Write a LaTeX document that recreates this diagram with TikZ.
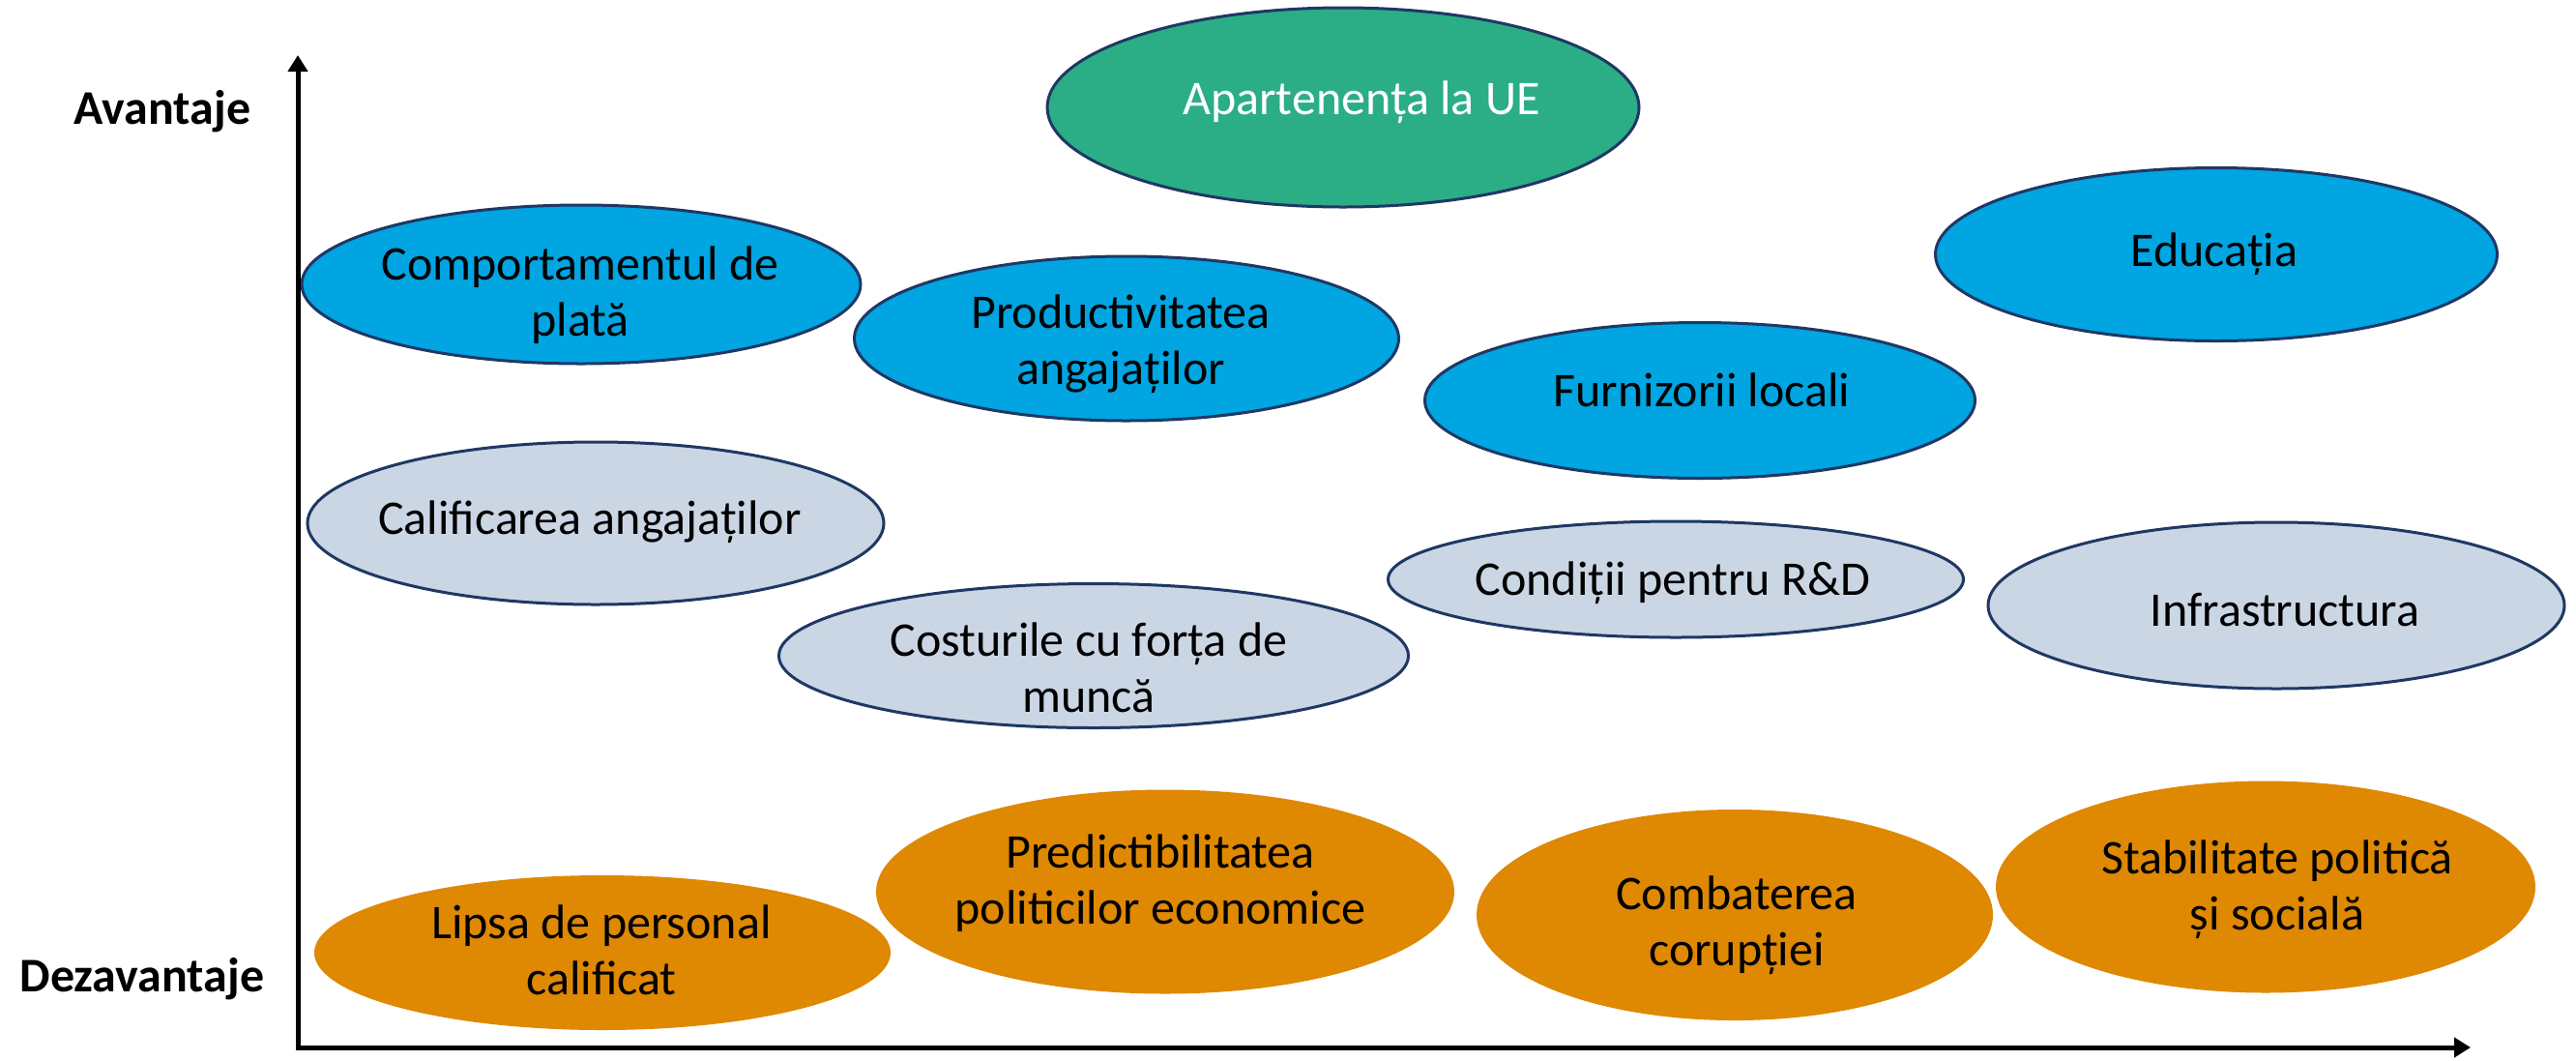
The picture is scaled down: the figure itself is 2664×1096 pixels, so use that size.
\documentclass[tikz,border=0pt]{standalone}
\usepackage{fontspec}
\setmainfont{Carlito}
\usetikzlibrary{shapes.geometric,arrows.meta}
\definecolor{ueGreen}{RGB}{43,174,134}
\definecolor{advBlue}{RGB}{0,165,225}
\definecolor{midGrey}{RGB}{203,214,228}
\definecolor{disOrange}{RGB}{223,136,2}
\definecolor{edgeNavy}{RGB}{31,56,100}
\newcommand{\twolines}[2]{\vtop{\baselineskip=58pt\lineskiplimit=-100pt\halign{\hfil##\hfil\cr#1\cr#2\cr}}}
\tikzset{
  oval/.style={ellipse, inner sep=0pt},
  greenoval/.style={oval, fill=ueGreen, draw=edgeNavy, line width=3pt},
  blueoval/.style={oval, fill=advBlue, draw=edgeNavy, line width=3pt},
  greyoval/.style={oval, fill=midGrey, draw=edgeNavy, line width=3pt},
  orangeoval/.style={oval, fill=disOrange},
  lbl/.style={anchor=base, inner sep=0pt, font=\fontsize{50}{58}\selectfont, text=black},
  axislbl/.style={anchor=base, inner sep=0pt, font=\fontsize{50}{60}\selectfont\bfseries, text=black},
  axisline/.style={line width=5pt, {Triangle[length=17pt,width=20pt]}-{Triangle[length=17pt,width=20pt]}}
}
\begin{document}
\begin{tikzpicture}[x=1pt,y=-1pt]
\useasboundingbox (0,0) rectangle (2664,1096);
\fill[white] (0,0) rectangle (2664,1096);

% ovals
\node[greenoval, minimum width=612pt, minimum height=206pt] (ue) at (1389,111) {};
\node[lbl, text=white] (tue) at (1408,118) {Apartenența la UE};

\node[blueoval, minimum width=578pt, minimum height=164pt] (plata) at (601,294) {};
\node[lbl] (tplata) at (600,289) {\twolines{Comportamentul de}{plată}};

\node[blueoval, minimum width=563pt, minimum height=170pt] (prod) at (1165,350) {};
\node[lbl] (tprod) at (1159,339) {\twolines{Productivitatea}{angajaților}};

\node[blueoval, minimum width=581pt, minimum height=179pt] (edu) at (2292,263) {};
\node[lbl] (tedu) at (2290,275) {Educația};

\node[blueoval, minimum width=569pt, minimum height=161pt] (furn) at (1758,414) {};
\node[lbl] (tfurn) at (1760,420) {Furnizorii locali};

\node[greyoval, minimum width=596pt, minimum height=168pt] (calif) at (616,541) {};
\node[lbl] (tcalif) at (610,552) {Calificarea angajaților};

\node[greyoval, minimum width=595pt, minimum height=120pt] (rd) at (1733,599) {};
\node[lbl] (trd) at (1730,615) {Condiții pentru R\&D};

\node[greyoval, minimum width=651pt, minimum height=149pt] (cost) at (1131,678) {};
\node[lbl] (tcost) at (1126,678) {\twolines{Costurile cu forța de}{muncă}};

\node[greyoval, minimum width=596pt, minimum height=172pt] (infra) at (2354,626) {};
\node[lbl] (tinfra) at (2363,647) {Infrastructura};

\node[orangeoval, minimum width=596pt, minimum height=160pt] (lipsa) at (623,985) {};
\node[lbl] (tlipsa) at (622,970) {\twolines{Lipsa de personal}{calificat}};

\node[orangeoval, minimum width=598pt, minimum height=211pt] (pred) at (1205,922) {};
\node[lbl] (tpred) at (1200,897) {\twolines{Predictibilitatea}{politicilor economice}};

\node[orangeoval, minimum width=534pt, minimum height=218pt] (cor) at (1794,946) {};
\node[lbl] (tcor) at (1796,940) {\twolines{Combaterea}{corupției}};

\node[orangeoval, minimum width=558pt, minimum height=219pt] (stab) at (2343,917) {};
\node[lbl] (tstab) at (2355,903) {\twolines{Stabilitate politică}{și socială}};

% axes
\coordinate (ytip) at (308,57);
\coordinate (orig) at (308,1083);
\coordinate (xtip) at (2555,1083);
\draw[axisline] (ytip) -- (orig) -- (xtip);

\node[axislbl] (av) at (168,128) {Avantaje};
\node[axislbl] (dez) at (147,1025) {Dezavantaje};
\end{tikzpicture}
\end{document}
